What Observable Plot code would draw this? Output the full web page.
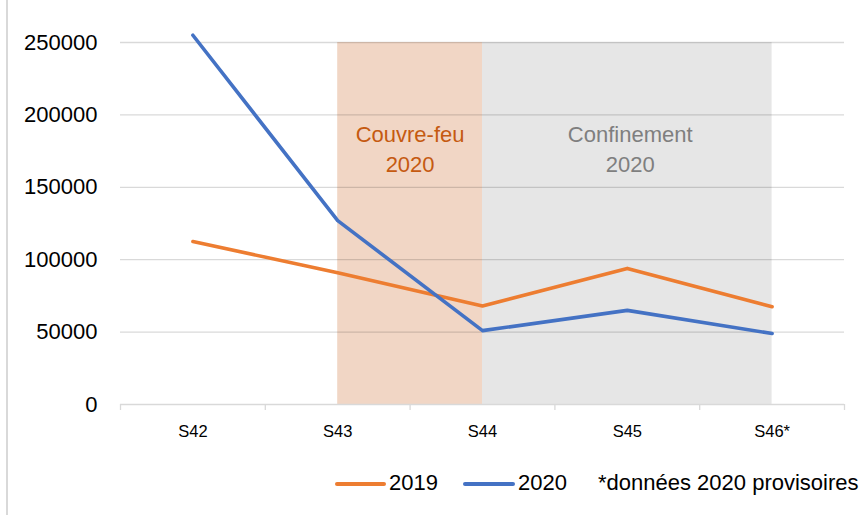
<!DOCTYPE html>
<html>
<head>
<meta charset="utf-8">
<script src="https://cdn.jsdelivr.net/npm/d3@7"></script>
<script src="https://cdn.jsdelivr.net/npm/@observablehq/plot@0.6"></script>
<style>
  html, body { margin: 0; padding: 0; background: #fff; }
  #wrap { position: relative; width: 864px; height: 515px; overflow: hidden;
          font-family: "Liberation Sans", Arial, sans-serif; }
  #frame { position: absolute; left: 6px; top: 0; width: 2px; height: 515px; background: #D9D9D9; }
  #chart { position: absolute; left: 0; top: 0; }
  .leg { position: absolute; top: 470px; font-size: 22px; color: #000; line-height: 26px; white-space: nowrap; }
  .sw { position: absolute; top: 482px; height: 4px; border-radius: 2px; }
</style>
</head>
<body>
<div id="wrap">
  <div id="frame"></div>
  <div id="chart"></div>
  <div class="sw" style="left:335px;width:51px;background:#ED7D31"></div>
  <div class="leg" style="left:389px">2019</div>
  <div class="sw" style="left:463px;width:52px;background:#4472C4"></div>
  <div class="leg" style="left:518px">2020</div>
  <div class="leg" style="left:598px">*données 2020 provisoires</div>
</div>
<script>
const weeks = ["S42", "S43", "S44", "S45", "S46*"];
const values2019 = [112500, 91000, 68000, 94000, 67500];
const values2020 = [255000, 127000, 51000, 65000, 49000];
const yTicks = [0, 50000, 100000, 150000, 200000, 250000];
const periods = [
  {label: "Couvre-feu\n2020", start: 1, end: 2, fill: "#F1D6C5", text: "#C55A11"},
  {label: "Confinement\n2020", start: 2, end: 4, fill: "#E6E6E6", text: "#7F7F7F"}
];

const rows = [];
weeks.forEach((w, i) => {
  rows.push({i, week: w, series: "2019", value: values2019[i]});
  rows.push({i, week: w, series: "2020", value: values2020[i]});
});
const idx = weeks.map((_, i) => i);
const bounds = d3.range(-0.5, weeks.length, 1);

const chart = Plot.plot({
  width: 864,
  height: 460,
  marginLeft: 120,
  marginRight: 20,
  marginTop: 42,
  marginBottom: 56,
  style: {fontFamily: "'Liberation Sans', Arial, sans-serif", background: "transparent"},
  x: {type: "linear", domain: [-0.5, weeks.length - 0.5]},
  y: {domain: [0, 250000]},
  marks: [
    Plot.rect(periods, {x1: "start", x2: "end", y1: 0, y2: 250000, fill: "fill"}),
    Plot.ruleY(yTicks.filter(d => d > 0), {x1: -0.5, x2: weeks.length - 0.5, stroke: "#000", strokeOpacity: 0.15, strokeWidth: 1.3}),
    Plot.ruleY([0], {x1: -0.5, x2: weeks.length - 0.5, stroke: "#D9D9D9", strokeWidth: 1.3}),
    Plot.axisY({ticks: yTicks, tickSize: 0, tickPadding: 23, fontSize: 22, tickFormat: d => String(d), fill: "#000", label: null}),
    Plot.axisX({ticks: bounds, tickSize: 6, stroke: "#D9D9D9", strokeWidth: 1.3, tickFormat: () => "", label: null}),
    Plot.axisX({ticks: idx, tickSize: 0, tickPadding: 21, fontSize: 16.5, tickFormat: i => weeks[i], fill: "#000", label: null}),
    Plot.text(periods, {x: d => d.end - d.start > 1 ? d.start + 1.02 : (d.start + d.end) / 2, y: 177500, text: "label", fill: "text",
      fontSize: 22, lineAnchor: "middle", lineHeight: 1.36}),
    Plot.line(rows, {x: "i", y: "value", z: "series", stroke: "series", strokeWidth: 3.6, strokeLinecap: "round", strokeLinejoin: "round"})
  ],
  color: {domain: ["2019", "2020"], range: ["#ED7D31", "#4472C4"]}
});
document.getElementById("chart").appendChild(chart);
</script>
</body>
</html>
